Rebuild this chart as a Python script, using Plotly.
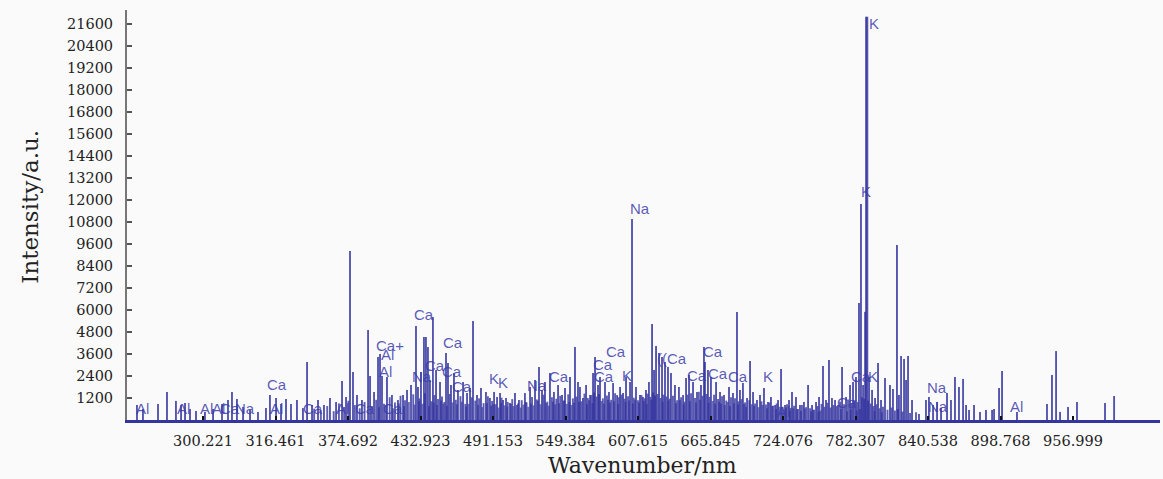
import plotly.graph_objects as go

# ---- main emission lines (wavelength nm, intensity a.u.) ----
peak_w = [205.2, 210.0, 222.1, 229.3, 236.5, 240.6, 243.8, 247.8, 252.6, 259.8,
          266.3, 273.5, 278.3, 281.5, 285.5, 290.4, 296.0, 302.4, 308.8, 312.0,
          316.9, 320.9, 324.9, 328.9, 333.7,
          338.5, 341.8, 345.8, 350.6, 355.4, 360.2, 365.1, 369.9, 373.1, 376.3,
          378.7, 381.9, 385.9, 390.8, 392.4, 395.6, 398.8, 400.4, 402.0, 406.0,
          410.0, 414.8, 418.9, 422.1, 425.3, 429.3, 430.9, 433.3, 435.7, 437.3,
          438.9, 440.5, 442.9, 445.4, 448.6, 453.4, 455.0, 457.4, 459.8, 463.0,
          467.1, 470.3, 472.7, 475.1,
          478.3, 481.5, 485.5, 488.7, 492.0, 494.4, 496.8, 499.2, 501.6, 504.8,
          508.8, 512.0, 516.8, 520.9, 524.9, 528.1, 530.5, 532.9, 536.9, 540.1,
          543.4, 546.6, 549.0, 553.0, 557.0, 559.4, 561.0, 563.4, 565.9, 569.1,
          571.5, 573.1, 575.5, 577.1, 581.1, 584.3, 587.6, 590.8, 593.2, 595.6,
          598.0, 601.2, 602.8, 606.0, 609.2, 611.6, 614.0,
          616.4, 618.9, 620.5, 622.1, 624.5, 626.9, 629.3, 631.7, 634.1, 637.3,
          640.5, 643.8, 646.2, 648.6, 651.8, 655.0, 658.2, 660.6, 661.4, 663.8,
          666.2, 670.3, 673.5, 676.7, 680.7, 683.9, 687.1, 689.5, 691.9, 695.2,
          697.6, 700.0, 703.2, 705.6, 708.8, 712.0, 714.4, 717.7, 720.1, 722.5,
          725.7, 728.9, 731.3, 734.5, 737.7, 740.9, 744.2, 747.4, 750.6, 753.0,
          756.2, 758.6, 761.0, 763.4, 765.9, 768.3, 771.5, 774.7, 777.9, 780.3,
          782.7, 785.1, 786.7, 788.4, 790.0, 790.8, 791.8, 793.2, 795.6, 798.0,
          800.4, 802.8, 806.0, 810.0, 812.4, 815.6, 817.2, 818.9, 821.3, 822.9,
          824.5, 827.7, 833.3, 838.9, 841.3, 844.6, 847.8, 851.0, 855.8, 859.0,
          862.2, 865.4, 868.7, 871.1, 873.5, 877.5, 882.3, 887.1, 892.0, 893.6,
          897.6, 900.0, 912.0, 936.1, 940.1, 943.4, 946.6, 953.0, 960.2, 982.7,
          990.0]
peak_h = [820, 600, 870, 1530, 1040, 820, 930, 600, 490, 440,
          600, 870, 1090, 1530, 1150, 710, 550, 440, 650, 1360,
          1200, 870, 1150, 870, 1090,
          650, 3160, 820, 1090, 820, 1200, 980, 2130, 1250, 9220,
          2620, 1360, 1090, 4910, 2400, 1530, 3440, 3600, 2400, 2350,
          1360, 1090, 1360, 1640, 1910, 5130, 1800, 2620, 4530, 4530,
          3980, 2180, 5620, 2730, 2070, 3650, 3110, 1910, 2560, 1640,
          2070, 1470, 1750, 5400,
          1360, 1750, 1530, 1200, 1530, 1250, 1470, 1090, 1200, 930,
          1470, 1090, 1470, 1800, 2180, 2890, 1640, 2070, 2560, 1530,
          1910, 1360, 1750, 2350, 3980, 2070, 1800, 1200, 1910, 1360,
          2560, 3440, 1910, 2350, 2070, 1530, 2020, 1360, 1800, 1470,
          2350, 2070, 10960, 1800, 1360, 1250, 1640,
          2070, 5240, 2730, 4040, 3650, 3440, 3160, 2890, 2560, 1910,
          1800, 1360, 2290, 2450, 2070, 1530, 1910, 3980, 3160, 2730,
          2350, 2070, 1530, 1360, 1800, 1470, 5890, 1640, 2020, 1200,
          3220, 1530, 1090, 1360, 1750, 980, 1250, 820, 1090, 2780,
          820, 1090, 1530, 1250, 820, 980, 1910, 820, 980, 1250,
          2950, 1090, 3270, 1200, 1090, 820, 2890, 1250, 1910, 2070,
          2350, 6380, 11780, 1910, 5900, 22000, 22000, 2350, 1640, 1200,
          3110, 1090, 2290, 1910, 1690, 9550, 1360, 3490, 3330, 2180,
          3490, 1090, 330, 1090, 1250, 820, 980, 650, 1470, 1090,
          2350, 1800, 2240, 820, 550, 820, 440, 550, 550, 600,
          1750, 2670, 440, 870, 2450, 3760, 440, 710, 980, 930,
          1310]

# ---- weaker dense background lines ----
minor_w = [347.5, 352.9, 358.0, 363.2, 367.4, 371.6, 375.0, 380.2, 384.1, 388.0,
           393.9, 397.3, 403.6, 408.2, 412.4, 416.9, 420.5, 427.1, 432.1, 436.5,
           441.7, 444.1, 447.0, 450.2, 452.1, 456.2, 461.3, 465.0, 468.9, 474.0,
           476.9, 480.0, 483.6, 487.1, 490.4, 493.2, 498.0, 503.0, 506.6, 510.3,
           514.2, 518.1, 522.5, 526.4, 531.7, 534.8, 538.5, 542.0, 545.1, 547.8,
           551.6, 555.3, 558.2, 562.1, 564.6, 567.3, 570.2, 572.3, 574.3, 576.3,
           579.4, 582.7, 586.0, 589.2, 592.0, 594.4, 596.8, 599.6, 604.2, 607.6,
           610.4, 613.0, 615.2, 617.6, 619.7, 621.3, 623.3, 625.7, 628.1, 630.5,
           633.0, 635.7, 639.0, 642.2, 645.0, 647.4, 650.2, 653.4, 656.5, 659.4,
           662.6, 665.0, 668.7, 671.9, 675.1, 678.5, 682.3, 685.5, 688.3, 690.7,
           693.6, 697.0, 701.6, 706.8, 710.4, 713.2, 716.1, 719.0, 723.7, 727.3,
           730.1, 733.0, 736.1, 739.3, 742.6, 745.8, 749.0, 751.8, 755.0, 757.4,
           759.8, 762.2, 764.6, 767.1, 769.9, 773.1, 776.3, 779.1, 781.5, 784.0,
           787.5, 789.2, 792.4, 794.4, 796.8, 799.2, 801.6, 804.4, 808.0, 811.2,
           814.0, 816.4, 820.1, 826.1, 830.9]
minor_h = [620, 540, 760, 480, 900, 710, 1050, 820, 640, 980,
           760, 1100, 880, 1240, 960, 1320, 1080, 1400, 1180, 1460,
           1020, 1360, 1150, 1280, 980, 1420, 1100, 1300, 880, 1240,
           1060, 1180, 920, 1300, 1040, 860, 1220, 980, 1140, 820,
           1080, 960, 1260, 1120, 1380, 1000, 1240, 1160, 1320, 1060,
           1400, 1180, 1280, 1020, 1440, 1200, 1360, 1500, 1280, 1420,
           1180, 1340, 1100, 1460, 1240, 1380, 1160, 1300, 1220, 1080,
           1360, 1180, 1440, 1260, 1500, 1340, 1420, 1200, 1380, 1280,
           1160, 1320, 1080, 1240, 1000, 1380, 1460, 1200, 1540, 1320,
           1420, 1260, 1380, 1140, 1300, 1060, 1240, 1180, 1020, 1140,
           960, 1080, 900, 1020, 840, 960, 780, 900, 720, 860,
           660, 780, 600, 820, 700, 640, 560, 760, 880, 720,
           940, 680, 820, 760, 1000, 860, 1120, 920, 1080, 980,
           1240, 1160, 1060, 900, 760, 860, 640, 720, 560, 680,
           520, 600, 460, 380, 420]

# ---- weakest continuum-like lines ----
weak_w = [399.5, 405.0, 410.9, 415.5, 419.7, 423.6, 428.1, 431.7, 434.5, 439.7,
          443.5, 446.1, 449.4, 451.3, 454.1, 458.6, 462.1, 466.0, 469.6, 471.5,
          479.1, 482.6, 486.3, 489.6, 491.4, 495.6, 497.6, 500.4, 502.6, 505.7,
          507.6, 511.2, 513.4, 515.6, 517.4, 519.5, 521.7, 523.7, 527.2, 529.4,
          533.8, 535.8, 539.3, 541.2, 544.2, 548.4, 550.4, 552.4, 554.2, 556.2,
          560.2, 566.6, 568.2, 571.0, 578.3, 580.3, 583.5, 585.1, 588.4, 591.6,
          597.6, 600.4, 603.5, 605.2, 608.4, 612.2, 614.6, 618.2, 627.5, 632.0,
          638.1, 641.3, 644.3, 649.3, 654.2, 657.4, 664.4, 667.6, 669.5, 672.7,
          674.3, 677.3, 679.6, 681.5, 684.7, 687.9, 692.7, 694.4, 698.8, 700.8,
          704.4, 707.6, 711.2, 715.4, 718.5, 721.3, 724.5, 726.5, 729.7, 732.3,
          735.3, 738.5, 741.5, 746.6, 748.2, 752.6, 754.2, 770.7, 775.5, 778.5,
          783.4, 785.9, 797.6, 803.4]
weak_h = [700, 820, 640, 900, 760, 980, 840, 1020, 880, 760,
          940, 820, 1060, 900, 780, 960, 860, 1000, 740, 880,
          820, 700, 920, 780, 860, 680, 940, 800, 720, 880,
          760, 900, 680, 840, 980, 720, 900, 800, 1040, 860,
          940, 780, 1000, 860, 920, 1060, 880, 980, 820, 940,
          1000, 860, 1080, 920, 1040, 900, 1100, 960, 1020, 880,
          980, 1060, 900, 1120, 960, 1040, 880, 1100, 1000, 1060,
          920, 1080, 860, 1020, 960, 1100, 940, 1040, 880, 1000,
          900, 820, 980, 760, 920, 840, 880, 720, 860, 780,
          700, 820, 640, 760, 600, 720, 560, 680, 520, 640,
          580, 500, 620, 480, 560, 440, 520, 600, 480, 560,
          520, 600, 480, 420]

# ---- element labels ----
label_text = ["Al", "Al", "Al", "Al", "Ca", "Na", "Ca", "Al", "Ca", "Al", "Ca", "Ca",
              "Ca+", "Al", "Al", "Ca", "Na", "Ca", "Ca", "Ca", "Ca",
              "K", "K", "Na", "Ca", "Ca", "Ca", "Ca", "K", "Na",
              "((Ca", "Ca", "Ca", "Ca", "Ca", "K", "Al",
              "Ca", "K", "K", "K", "Ca", "Na", "Na", "Al"]
label_w = [210.0, 242.2, 261.4, 271.0, 280.0, 292.0, 317.7, 316.9, 346.6, 369.9, 388.3, 410.8,
           408.4, 406.8, 405.2, 435.7, 434.1, 444.6, 459.0, 458.2, 466.3,
           491.9, 499.2, 526.5, 544.2, 579.5, 580.3, 590.0, 598.8, 609.2,
           634.9, 655.0, 667.9, 671.9, 688.0, 712.0, 724.1,
           786.7, 796.4, 790.8, 797.2, 775.5, 847.8, 848.6, 912.0]
label_h = [650, 650, 650, 650, 650, 650, 1960, 650, 650, 650, 650, 650,
           4090, 3600, 2670, 5730, 2350, 3000, 4250, 2620, 1850,
           2290, 2020, 1900, 2350, 3050, 2400, 3760, 2450, 11510,
           3380, 2450, 3760, 2560, 2350, 2350, 440,
           2400, 2350, 12440, 21650, 930, 1800, 760, 710]

x_tick_vals = [258.230, 316.461, 374.692, 432.923, 491.153, 549.384, 607.615,
               665.845, 724.076, 782.307, 840.538, 898.768, 956.999]
x_tick_text = ["300.221", "316.461", "374.692", "432.923", "491.153", "549.384", "607.615",
               "665.845", "724.076", "782.307", "840.538", "898.768", "956.999"]
y_tick_vals = [1200, 2400, 3600, 4800, 6000, 7200, 8400, 9600, 10800, 12000,
               13200, 14400, 15600, 16800, 18000, 19200, 20400, 21600]
y_tick_text = ["1200", "2400", "3600", "4800", "6000", "7200", "8400", "9600", "10800",
               "12000", "13200", "14400", "15600", "16800", "18000", "19200", "20400",
               "21600"]


def stick_coords(ws, hs):
    xs, ys = [], []
    for w, h in zip(ws, hs):
        xs += [w, w, None]
        ys += [0, h, None]
    return xs, ys


fig = go.Figure()
for ws, hs, col in [(weak_w, weak_h, "rgba(55,55,160,0.72)"),
                    (minor_w, minor_h, "rgba(50,50,158,0.78)"),
                    (peak_w, peak_h, "rgba(48,48,158,0.82)")]:
    xs, ys = stick_coords(ws, hs)
    fig.add_trace(go.Scatter(x=xs, y=ys, mode="lines",
                             line=dict(color=col, width=1.9),
                             hoverinfo="skip"))

annotations = []
for t, w, h in zip(label_text, label_w, label_h):
    annotations.append(dict(x=w, y=h, xref="x", yref="y", text=t, showarrow=False,
                            xanchor="center", yanchor="middle",
                            font=dict(family="Liberation Sans", size=15,
                                      color="rgba(60,60,170,0.85)")))

serif = "DejaVu Serif"
annotations.append(dict(x=0.4995, y=-0.112, xref="paper", yref="paper",
                        text="Wavenumber/nm", showarrow=False,
                        xanchor="center", yanchor="middle",
                        font=dict(family=serif, size=22, color="#222")))
annotations.append(dict(x=-0.094, y=0.52, xref="paper", yref="paper",
                        text="Intensity/a.u.", showarrow=False, textangle=-90,
                        xanchor="center", yanchor="middle",
                        font=dict(family=serif, size=23, color="#222")))

fig.update_layout(width=1163, height=479,
                  margin=dict(l=127, r=3, t=10, b=59),
                  paper_bgcolor="#fafafa", plot_bgcolor="#fafafa",
                  showlegend=False, annotations=annotations)
fig.update_xaxes(range=[197.19, 1026.87], tickmode="array",
                 tickvals=x_tick_vals, ticktext=x_tick_text,
                 ticks="inside", ticklen=4, tickwidth=1.5, tickcolor="#111",
                 showline=True, linecolor="#3535a0", linewidth=2.5,
                 showgrid=False, zeroline=False, ticklabelstandoff=6,
                 tickfont=dict(family=serif, size=14.5, color="#222"))
fig.update_yaxes(range=[0, 22364], tickmode="array", tickvals=y_tick_vals,
                 ticktext=y_tick_text,
                 ticks="inside", ticklen=5, tickwidth=1.5, tickcolor="#555",
                 showline=True, linecolor="#777", linewidth=2,
                 showgrid=False, zeroline=False, ticklabelstandoff=9,
                 tickfont=dict(family=serif, size=14.5, color="#222"))

fig.write_html("out.html", config={"displayModeBar": False})

# remove the browser's default page margin so the figure fills the window exactly
with open("out.html", "r", encoding="utf-8") as f:
    html = f.read()
html = html.replace("<head>", "<head><style>html,body{margin:0;padding:0;overflow:hidden;}</style>", 1)
with open("out.html", "w", encoding="utf-8") as f:
    f.write(html)
